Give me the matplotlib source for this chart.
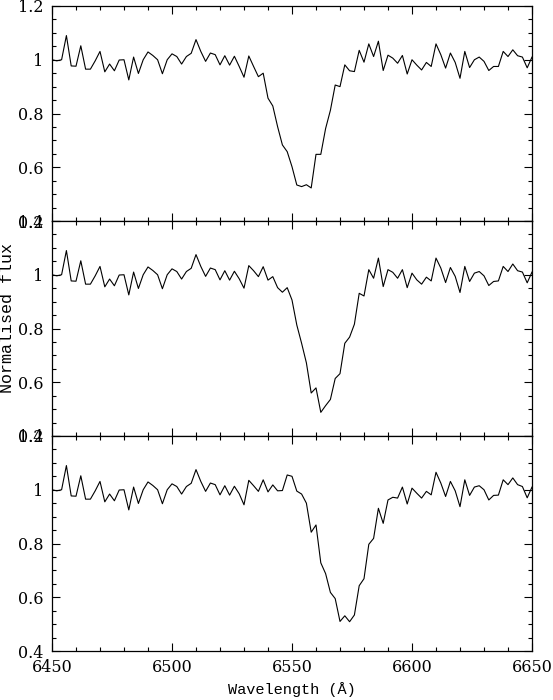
import matplotlib
matplotlib.use("Agg")
import matplotlib.pyplot as plt
from matplotlib.ticker import MultipleLocator, FixedLocator, FixedFormatter
import numpy as np

# wavelength grid (Angstrom), 2 A sampling
wavelength = np.arange(6450, 6651, 2)

# normalised flux, one spectrum per panel (top -> bottom)
flux_top = [
    1.0, 0.996, 1.0, 1.09, 0.977, 0.976, 1.052, 0.965, 0.965, 0.996,
    1.031, 0.955, 0.984, 0.959, 0.999, 1.0, 0.925, 1.01, 0.949, 1.0,
    1.029, 1.016, 1.0, 0.948, 1.0, 1.022, 1.012, 0.984, 1.012, 1.024,
    1.075, 1.031, 0.994, 1.025, 1.019, 0.981, 1.015, 0.98, 1.013, 0.975,
    0.935, 1.014, 0.975, 0.937, 0.95, 0.857, 0.828, 0.751, 0.683, 0.658,
    0.602, 0.534, 0.528, 0.535, 0.523, 0.648, 0.648, 0.744, 0.812, 0.906,
    0.9, 0.981, 0.959, 0.956, 1.035, 0.991, 1.059, 1.012, 1.069, 0.96,
    1.017, 1.006, 0.987, 1.016, 0.947, 1.0, 0.98, 0.962, 0.99, 0.975,
    1.059, 1.019, 0.969, 1.025, 0.99, 0.931, 1.031, 0.971, 1.0, 1.01,
    0.994, 0.96, 0.975, 0.975, 1.031, 1.012, 1.037, 1.015, 1.01, 0.97,
    1.01,
]
flux_mid = [
    1.0, 0.996, 1.0, 1.09, 0.977, 0.976, 1.052, 0.965, 0.965, 0.996,
    1.031, 0.955, 0.984, 0.959, 0.999, 1.0, 0.925, 1.01, 0.949, 1.0,
    1.029, 1.016, 1.0, 0.948, 1.0, 1.022, 1.012, 0.984, 1.012, 1.024,
    1.075, 1.031, 0.994, 1.025, 1.019, 0.981, 1.015, 0.98, 1.013, 0.985,
    0.95, 1.034, 1.015, 0.993, 1.03, 0.98, 0.993, 0.952, 0.935, 0.952,
    0.906, 0.813, 0.745, 0.672, 0.56, 0.579, 0.488, 0.513, 0.536, 0.614,
    0.632, 0.745, 0.768, 0.816, 0.931, 0.921, 1.019, 0.987, 1.062, 0.956,
    1.019, 1.009, 0.987, 1.019, 0.952, 1.006, 0.981, 0.965, 0.991, 0.977,
    1.062, 1.025, 0.971, 1.027, 0.994, 0.934, 1.031, 0.975, 1.006, 1.012,
    0.996, 0.96, 0.975, 0.977, 1.031, 1.012, 1.04, 1.015, 1.01, 0.97,
    1.01,
]
flux_bot = [
    1.0, 0.996, 1.0, 1.09, 0.977, 0.976, 1.052, 0.965, 0.965, 0.996,
    1.031, 0.955, 0.984, 0.959, 0.999, 1.0, 0.925, 1.01, 0.949, 1.0,
    1.029, 1.016, 1.0, 0.948, 1.0, 1.022, 1.012, 0.984, 1.012, 1.024,
    1.075, 1.031, 0.994, 1.025, 1.019, 0.981, 1.015, 0.98, 1.013, 0.985,
    0.944, 1.035, 1.015, 0.994, 1.037, 0.992, 1.018, 0.996, 0.997, 1.055,
    1.05, 0.995, 0.984, 0.95, 0.842, 0.869, 0.728, 0.688, 0.618, 0.595,
    0.51, 0.531, 0.509, 0.534, 0.643, 0.669, 0.797, 0.819, 0.931, 0.875,
    0.962, 0.972, 0.969, 1.01, 0.947, 1.006, 0.987, 0.969, 0.994, 0.981,
    1.065, 1.025, 0.975, 1.031, 0.996, 0.937, 1.037, 0.979, 1.01, 1.015,
    1.0, 0.962, 0.979, 0.98, 1.037, 1.019, 1.044, 1.019, 1.012, 0.97,
    1.01,
]

y_ticks = [0.4, 0.6, 0.8, 1.0, 1.2]
y_ticklabels = ["0.4", "0.6", "0.8", "1", "1.2"]
x_ticks = [6450, 6500, 6550, 6600, 6650]
x_ticklabels = ["6450", "6500", "6550", "6600", "6650"]

TICK_FONT = "DejaVu Serif"
LABEL_FONT = "Liberation Mono"

fig = plt.figure(figsize=(5.53, 7.0), dpi=100)

# panel geometry in figure fractions (pixels / figure size)
left = 52 / 553
width = (532 - 52) / 553
height = 215 / 700
bottoms = [1 - 221 / 700, 1 - 436 / 700, 1 - 651 / 700]

axes = []
for b, flux in zip(bottoms, [flux_top, flux_mid, flux_bot]):
    ax = fig.add_axes([left, b, width, height])
    ax.plot(wavelength, flux, color="black", lw=0.8)
    ax.set_xlim(6450, 6650)
    ax.set_ylim(0.4, 1.2)

    ax.yaxis.set_major_locator(FixedLocator(y_ticks))
    ax.yaxis.set_major_formatter(FixedFormatter(y_ticklabels))
    ax.yaxis.set_minor_locator(MultipleLocator(0.05))
    ax.xaxis.set_major_locator(FixedLocator(x_ticks))
    ax.xaxis.set_minor_locator(MultipleLocator(10))

    ax.tick_params(which="both", direction="in", top=True, right=True,
                   width=0.8, color="black")
    ax.tick_params(which="major", length=5.5)
    ax.tick_params(which="minor", length=3)
    ax.tick_params(axis="y", pad=6)
    for lab in ax.get_yticklabels():
        lab.set_fontfamily(TICK_FONT)
        lab.set_fontsize(11.5)
    for s in ax.spines.values():
        s.set_linewidth(0.9)
    axes.append(ax)

for ax in axes[:2]:
    ax.tick_params(labelbottom=False)

axes[2].xaxis.set_major_formatter(FixedFormatter(x_ticklabels))
axes[2].tick_params(axis="x", pad=6)
for lab in axes[2].get_xticklabels():
    lab.set_fontfamily(TICK_FONT)
    lab.set_fontsize(11.5)

axes[2].set_xlabel("Wavelength (Å)", fontfamily=LABEL_FONT, fontsize=11, labelpad=4)
fig.text(8 / 553, 1 - 318 / 700, "Normalised flux", rotation=90,
         ha="center", va="center", fontfamily=LABEL_FONT, fontsize=12)

fig.savefig("out.png", dpi=100)
